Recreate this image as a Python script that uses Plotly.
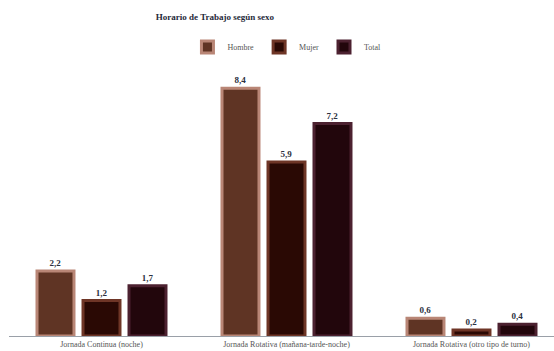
import plotly.graph_objects as go

categories = ["Jornada Continua (noche)", "Jornada Rotativa (mañana-tarde-noche)", "Jornada Rotativa (otro tipo de turno)"]
hombre = [2.2, 8.4, 0.6]
mujer = [1.2, 5.9, 0.2]
total = [1.7, 7.2, 0.4]

series = [
    ("Hombre", hombre, "#5f3424", "#b98676"),
    ("Mujer", mujer, "#2a0904", "#6e3526"),
    ("Total", total, "#22060c", "#4c2130"),
]

fig = go.Figure()
for name, vals, fill, line in series:
    fig.add_trace(go.Bar(
        name=name, x=categories, y=vals,
        marker=dict(color=fill, line=dict(color=line, width=3)),
        texttemplate="<b>%{y:.1f}</b>", textposition="outside", cliponaxis=False,
        textfont=dict(family="Liberation Serif", size=9, color="#2b3040"),
    ))

fig.update_layout(
    width=554, height=351,
    margin=dict(l=9, r=0, t=41, b=15),
    paper_bgcolor="white", plot_bgcolor="white",
    separators=",.",
    barmode="group", bargap=0.254, bargroupgap=0.196,
    font=dict(family="Liberation Serif", color="#333"),
    title=dict(text="<b>Horario de Trabajo según sexo</b>", x=0.388, xanchor="center",
               y=0.952, yanchor="middle", font=dict(size=9, color="#1f2a3a")),
    legend=dict(orientation="h", x=0.51, xanchor="center", y=0.98, yanchor="middle",
                font=dict(size=8, color="#555"), itemwidth=30,
                bgcolor="rgba(0,0,0,0)"),
    showlegend=True,
)
fig.update_xaxes(range=[-0.5, 2.446], showline=True, linecolor="#9aa0a8", linewidth=1,
                 ticks="", tickfont=dict(family="Liberation Serif", size=8, color="#555"),
                 showgrid=False)
fig.update_yaxes(range=[0, 10], visible=False, showgrid=False)

fig.write_html("out.html")
